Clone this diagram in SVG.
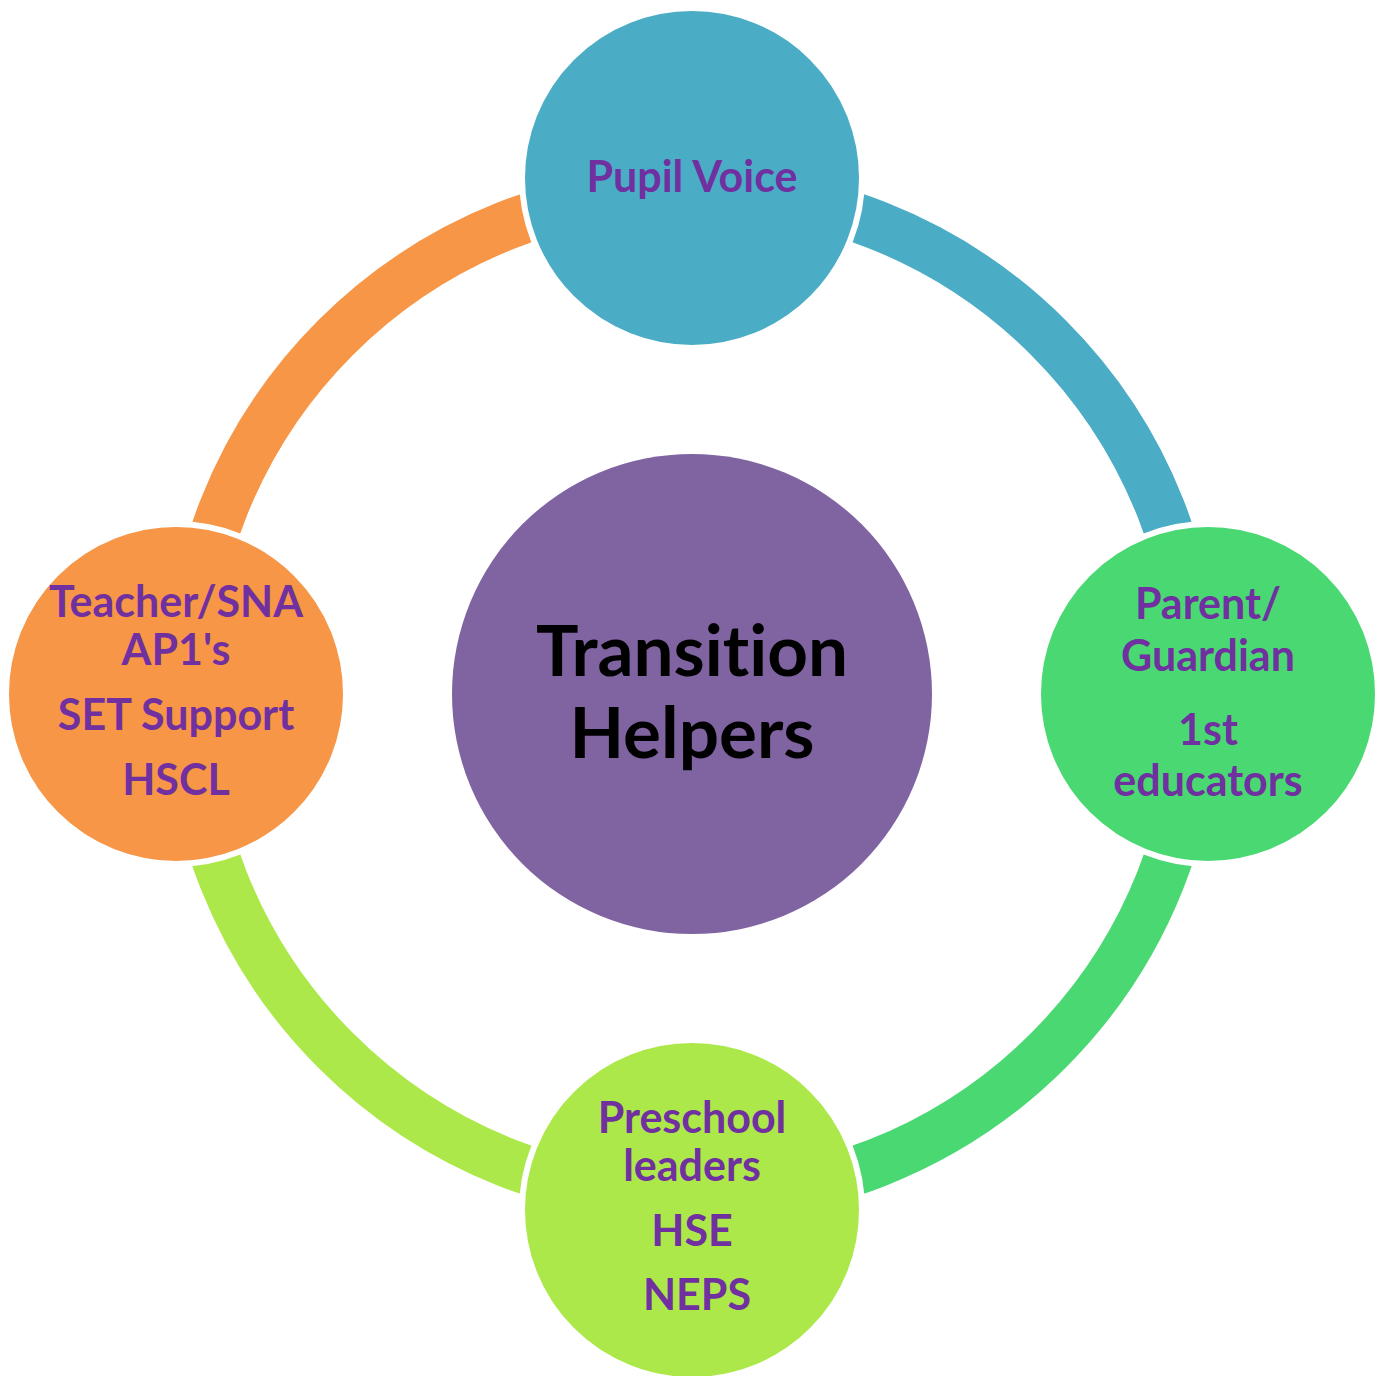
<svg xmlns="http://www.w3.org/2000/svg" width="1386" height="1376" viewBox="0 0 1386 1376">
<style>
.arc{fill:none;stroke-width:49}
.node{stroke:#FFFFFF;stroke-width:6}
.lbl{font-family:Lato,"Open Sans","Liberation Sans",sans-serif;font-weight:bold;font-size:43px;fill:#7030A0;text-anchor:middle;font-variant-ligatures:none}
.ctr{font-family:Lato,"Open Sans","Liberation Sans",sans-serif;font-weight:bold;font-size:71px;fill:#000000;text-anchor:middle;font-variant-ligatures:none}
</style>
<rect width="1386" height="1376" fill="#FFFFFF"/>
<g id="connectors">
<path class="arc" stroke="#4BACC6" d="M692,190 A504,504 0 0 1 1196,694"/>
<path class="arc" stroke="#4AD873" d="M1196,694 A504,504 0 0 1 692,1198"/>
<path class="arc" stroke="#ADE84A" d="M692,1198 A504,504 0 0 1 188,694"/>
<path class="arc" stroke="#F79646" d="M188,694 A504,504 0 0 1 692,190"/>
</g>
<g id="center">
<circle cx="692" cy="694" r="240" fill="#8064A2"/>
<text class="ctr" x="692" y="676">Transition</text>
<text class="ctr" x="692" y="758">Helpers</text>
</g>
<g id="pupil-voice">
<circle class="node" cx="692" cy="178" r="170" fill="#4BACC6"/>
<text class="lbl" x="692" y="192">Pupil Voice</text>
</g>
<g id="parent-guardian">
<circle class="node" cx="1208" cy="694" r="170" fill="#4AD873"/>
<text class="lbl" x="1208" y="619">Parent/</text>
<text class="lbl" x="1208" y="671">Guardian</text>
<text class="lbl" x="1208" y="745">1st</text>
<text class="lbl" x="1208" y="796">educators</text>
</g>
<g id="preschool">
<circle class="node" cx="692" cy="1210" r="170" fill="#ADE84A"/>
<text class="lbl" x="692" y="1133">Preschool</text>
<text class="lbl" x="692" y="1181">leaders</text>
<text class="lbl" x="692" y="1246">HSE</text>
<text class="lbl" x="697" y="1310">NEPS</text>
</g>
<g id="teacher">
<circle class="node" cx="176" cy="694" r="170" fill="#F79646"/>
<text class="lbl" x="176" y="617">Teacher/SNA</text>
<text class="lbl" x="176" y="665">AP1's</text>
<text class="lbl" x="176" y="730">SET Support</text>
<text class="lbl" x="176" y="795">HSCL</text>
</g>
</svg>
